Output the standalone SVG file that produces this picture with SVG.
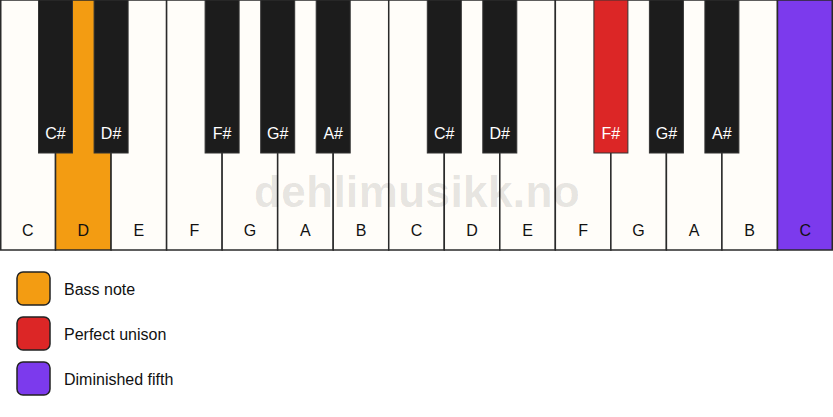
<svg xmlns="http://www.w3.org/2000/svg" width="833" height="417" viewBox="0 0 833 417">
<style>
.w{fill:#fffdf9;stroke:#2a2a2a;stroke-width:1.5}
.b{fill:#1c1c1c;stroke:#333;stroke-width:1}
.wl{font-family:"Liberation Sans",Arial,sans-serif;font-size:16px;fill:#111;text-anchor:middle}
.bl{font-family:"Liberation Sans",Arial,sans-serif;font-size:16px;fill:#fff;text-anchor:middle}
.lg{font-family:"Liberation Sans",Arial,sans-serif;font-size:16px;fill:#111}
.sw{stroke:#222;stroke-width:1.5}
.bass{fill:#f39c12}
.uni{fill:#dc2626}
.dim{fill:#7c3aed}
</style>
<rect width="833" height="417" fill="#ffffff"/>
<g id="white-keys">
<g id="wk-C1"><rect class="w" x="0.75" y="0" width="54.78" height="250"/><text class="wl" x="27.8" y="236">C</text></g>
<g id="wk-D1"><rect class="w bass" x="55.53" y="0" width="55.53" height="250"/><text class="wl" x="83.3" y="236">D</text></g>
<g id="wk-E1"><rect class="w" x="111.07" y="0" width="55.53" height="250"/><text class="wl" x="138.8" y="236">E</text></g>
<g id="wk-F1"><rect class="w" x="166.6" y="0" width="55.53" height="250"/><text class="wl" x="194.4" y="236">F</text></g>
<g id="wk-G1"><rect class="w" x="222.13" y="0" width="55.53" height="250"/><text class="wl" x="249.9" y="236">G</text></g>
<g id="wk-A1"><rect class="w" x="277.67" y="0" width="55.53" height="250"/><text class="wl" x="305.4" y="236">A</text></g>
<g id="wk-B1"><rect class="w" x="333.2" y="0" width="55.53" height="250"/><text class="wl" x="361" y="236">B</text></g>
<g id="wk-C2"><rect class="w" x="388.73" y="0" width="55.53" height="250"/><text class="wl" x="416.5" y="236">C</text></g>
<g id="wk-D2"><rect class="w" x="444.27" y="0" width="55.53" height="250"/><text class="wl" x="472" y="236">D</text></g>
<g id="wk-E2"><rect class="w" x="499.8" y="0" width="55.53" height="250"/><text class="wl" x="527.6" y="236">E</text></g>
<g id="wk-F2"><rect class="w" x="555.33" y="0" width="55.53" height="250"/><text class="wl" x="583.1" y="236">F</text></g>
<g id="wk-G2"><rect class="w" x="610.87" y="0" width="55.53" height="250"/><text class="wl" x="638.6" y="236">G</text></g>
<g id="wk-A2"><rect class="w" x="666.4" y="0" width="55.53" height="250"/><text class="wl" x="694.2" y="236">A</text></g>
<g id="wk-B2"><rect class="w" x="721.93" y="0" width="55.53" height="250"/><text class="wl" x="749.7" y="236">B</text></g>
<g id="wk-C3"><rect class="w dim" x="777.47" y="0" width="54.78" height="250"/><text class="wl" x="805.2" y="236">C</text></g>
</g>
<text x="417" y="206.5" font-family="'Liberation Sans',Arial,sans-serif" font-size="44" font-weight="bold" letter-spacing="0.4" fill="#000" fill-opacity="0.11" text-anchor="middle">dehlimusikk.no</text>
<g id="black-keys">
<g id="bk-Cs1"><rect class="b" x="38.5" y="0" width="34" height="153"/><text class="bl" x="55.5" y="139">C#</text></g>
<g id="bk-Ds1"><rect class="b" x="94.1" y="0" width="34" height="153"/><text class="bl" x="111.1" y="139">D#</text></g>
<g id="bk-Fs1"><rect class="b" x="205.1" y="0" width="34" height="153"/><text class="bl" x="222.1" y="139">F#</text></g>
<g id="bk-Gs1"><rect class="b" x="260.7" y="0" width="34" height="153"/><text class="bl" x="277.7" y="139">G#</text></g>
<g id="bk-As1"><rect class="b" x="316.2" y="0" width="34" height="153"/><text class="bl" x="333.2" y="139">A#</text></g>
<g id="bk-Cs2"><rect class="b" x="427.3" y="0" width="34" height="153"/><text class="bl" x="444.3" y="139">C#</text></g>
<g id="bk-Ds2"><rect class="b" x="482.8" y="0" width="34" height="153"/><text class="bl" x="499.8" y="139">D#</text></g>
<g id="bk-Fs2"><rect class="b uni" x="593.9" y="0" width="34" height="153"/><text class="bl" x="610.9" y="139">F#</text></g>
<g id="bk-Gs2"><rect class="b" x="649.4" y="0" width="34" height="153"/><text class="bl" x="666.4" y="139">G#</text></g>
<g id="bk-As2"><rect class="b" x="704.9" y="0" width="34" height="153"/><text class="bl" x="721.9" y="139">A#</text></g>
</g>
<g id="legend">
<g id="lg-bass"><rect class="sw bass" x="17" y="272" width="33" height="33" rx="6"/><text class="lg" x="64" y="295">Bass note</text></g>
<g id="lg-unison"><rect class="sw uni" x="17" y="317" width="33" height="33" rx="6"/><text class="lg" x="64" y="340">Perfect unison</text></g>
<g id="lg-dim"><rect class="sw dim" x="17" y="362" width="33" height="33" rx="6"/><text class="lg" x="64" y="385">Diminished fifth</text></g>
</g>
<g id="connectors"/>
</svg>
